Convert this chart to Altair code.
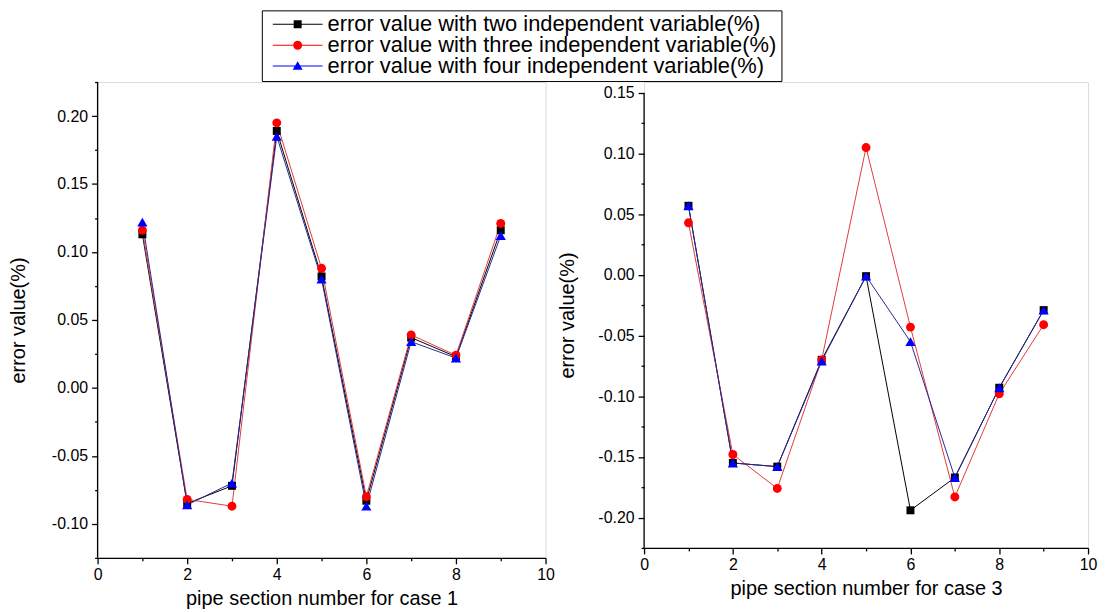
import altair as alt
import pandas as pd

# ---------------- data ----------------
sections = [1, 2, 3, 4, 5, 6, 7, 8, 9]
series_names = [
    "error value with two independent variable(%)",
    "error value with three independent variable(%)",
    "error value with four independent variable(%)",
]
case1_two = [0.113, -0.085, -0.072, 0.189, 0.082, -0.083, 0.037, 0.023, 0.116]
case1_three = [0.116, -0.082, -0.087, 0.195, 0.088, -0.080, 0.039, 0.024, 0.121]
case1_four = [0.122, -0.086, -0.070, 0.185, 0.080, -0.087, 0.034, 0.022, 0.112]

case3_two = [0.057, -0.155, -0.158, -0.070, -0.001, -0.194, -0.167, -0.093, -0.029]
case3_three = [0.043, -0.148, -0.176, -0.070, 0.105, -0.043, -0.183, -0.098, -0.041]
case3_four = [0.057, -0.155, -0.158, -0.071, -0.001, -0.055, -0.167, -0.093, -0.029]

x_titles = ["pipe section number for case 1", "pipe section number for case 3"]
y_title = "error value(%)"

# axis ranges (value span of each y axis line)
case1_axis = [-0.125, 0.225]
case3_axis = [-0.225, 0.15]

# ---------------- styles ----------------
marker_colors = ["#000000", "#ff0000", "#0000ff"]
line_colors = ["#000000", "#e23a3a", "#27279a"]
marker_shapes = ["square", "circle", "triangle-up"]
marker_sizes = [64, 80, 105]
LINE = "M-1,-0.02H1V0.02H-1Z "
legend_paths = [
    LINE + "M-0.16,-0.16H0.16V0.16H-0.16Z",
    LINE + "M-0.18,0A0.18,0.18,0,1,1,0.18,0A0.18,0.18,0,1,1,-0.18,0Z",
    LINE + "M0,-0.2L0.2,0.15H-0.2Z",
]
FONT = "Liberation Sans"
MINUS = "\u2212"


def x_axis(title):
    return alt.Axis(
        title=title,
        values=list(range(0, 11)),
        labelExpr="datum.value % 2 == 0 ? format(datum.value, 'd') : ''",
        tickSize={"condition": {"test": "datum.value % 2 == 0", "value": 6}, "value": 3},
        grid=False, domainColor="black", domainWidth=1.3, tickColor="black", tickWidth=1.3,
        labelFont=FONT, labelFontSize=16, labelColor="black", labelPadding=3,
        labelFlush=False, labelOverlap=False, labelBound=False,
        titleFont=FONT, titleFontSize=20, titleFontWeight="normal", titleColor="black",
        titlePadding=6,
    )


def y_axis(values, title_pad):
    test = "abs(datum.value*20 - round(datum.value*20)) < 0.001"
    return alt.Axis(
        title=y_title,
        values=values,
        domain=False,
        labelExpr=f"{test} ? replace(format(datum.value, '.2f'), '{MINUS}', '-') : ''",
        tickSize={"condition": {"test": test, "value": 6}, "value": 3},
        grid=False, tickColor="black", tickWidth=1.3,
        labelFont=FONT, labelFontSize=16, labelColor="black", labelPadding=4,
        labelFlush=False, labelOverlap=False, labelBound=False,
        titleFont=FONT, titleFontSize=20, titleFontWeight="normal", titleColor="black",
        titlePadding=title_pad,
    )


def panel(two, three, four, axis_span, ydomain, yvals, xtitle, title_pad, width, height, legend):
    df = pd.DataFrame({
        "section": sections * 3,
        "value": two + three + four,
        "series": [series_names[0]] * 9 + [series_names[1]] * 9 + [series_names[2]] * 9,
    })
    xscale = alt.Scale(domain=[0, 10], nice=False, zero=False)
    yscale = alt.Scale(domain=ydomain, nice=False, zero=False)
    x = alt.X("section:Q", scale=xscale, axis=x_axis(xtitle))
    y = alt.Y("value:Q", scale=yscale, axis=y_axis(yvals, title_pad))
    base = alt.Chart(df)
    layers = []
    # y axis line, spanning the axis range only
    axis_df = pd.DataFrame({"x0": [0], "lo": [axis_span[0]], "hi": [axis_span[1]]})
    layers.append(
        alt.Chart(axis_df).mark_rule(color="black", strokeWidth=1.3).encode(
            x=alt.X("x0:Q", scale=xscale, axis=x_axis(xtitle)),
            y=alt.Y("lo:Q", scale=yscale, axis=y_axis(yvals, title_pad)),
            y2="hi:Q",
        )
    )
    for i, name in enumerate(series_names):
        layers.append(
            base.transform_filter(alt.datum.series == name)
            .mark_line(color=line_colors[i], strokeWidth=1)
            .encode(x=x, y=y, order="section:Q")
        )
    for i, name in enumerate(series_names):
        layers.append(
            base.transform_filter(alt.datum.series == name)
            .mark_point(shape=marker_shapes[i], filled=True, color=marker_colors[i],
                        size=marker_sizes[i], opacity=1)
            .encode(x=x, y=y)
        )
    if legend:
        leg = alt.Legend(
            title=None, orient="none", legendX=165, legendY=-72,
            strokeColor="black", fillColor="white", padding=4,
            labelFont=FONT, labelFontSize=22, labelColor="black", labelLimit=0,
            symbolSize=2500, clipHeight=20, rowPadding=-5, labelOffset=5,
            symbolOffset=7, symbolStrokeWidth=0, symbolOpacity=1,
        )
        layers.append(
            base.transform_filter("datum.section < 0")
            .mark_point(filled=True)
            .encode(
                x=x, y=y,
                color=alt.Color("series:N", scale=alt.Scale(domain=series_names, range=marker_colors), legend=leg),
                shape=alt.Shape("series:N", scale=alt.Scale(domain=series_names, range=legend_paths), legend=leg),
            )
        )
    return alt.layer(*layers).properties(width=width, height=height)


left_vals = [round(-0.125 + 0.025 * i, 3) for i in range(15)]
right_vals = [round(-0.225 + 0.025 * i, 3) for i in range(16)]

left = panel(case1_two, case1_three, case1_four, case1_axis, [-0.125, 0.225], left_vals,
             x_titles[0], 23, 450, 478, True)
right = panel(case3_two, case3_three, case3_four, case3_axis, [-0.225, 0.159], right_vals,
              x_titles[1], 20, 446, 468, False)

chart = (
    alt.hconcat(left, right, spacing=2)
    .properties(padding=0)
    .configure_view(stroke="transparent", strokeWidth=0, strokeOpacity=0)
    .configure(background="white")
)

chart.save("out.html", embed_options={"renderer": "svg", "actions": False})
